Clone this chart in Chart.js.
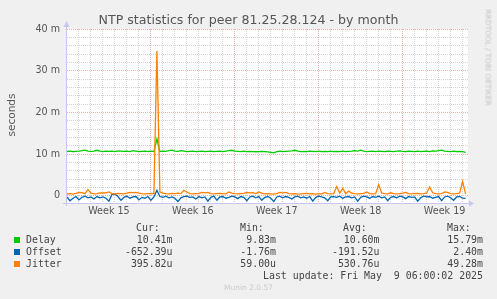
<!DOCTYPE html>
<html>
<head>
<meta charset="utf-8">
<script src="https://cdn.jsdelivr.net/npm/chart.js@4.4.1/dist/chart.umd.min.js"></script>
<style>
  html, body { margin: 0; padding: 0; background: #f0f0f0; }
  #wrap { position: relative; width: 497px; height: 299px; overflow: hidden; }
  #c { position: absolute; left: 0; top: 0; }
  .t { position: absolute; white-space: pre; }
  .mono { font-family: "DejaVu Sans Mono", monospace; font-size: 9.9px; line-height: 12px; color: #444; }
  .r { text-align: right; }
  .box { position: absolute; width: 6px; height: 6px; left: 14px; }
</style>
</head>
<body>
<div id="wrap">
  <canvas id="c" width="497" height="299"></canvas>

  <div class="t" style="left:0;top:12px;width:497px;text-align:center;font:12.6px/15px 'DejaVu Sans';color:#555;">NTP statistics for peer 81.25.28.124 - by month</div>
  <div class="t" style="left:-39px;top:109px;width:100px;text-align:center;font:10.5px/12px 'DejaVu Sans';color:#555;transform:rotate(-90deg);">seconds</div>
  <div class="t" style="left:438px;top:53px;width:100px;text-align:center;font:7.5px/9px 'DejaVu Sans';color:#c4c4c4;transform:rotate(90deg);">RRDTOOL / TOBI OETIKER</div>

  <div class="t mono" style="left:136px;top:221.5px;">Cur:</div>
  <div class="t mono" style="left:240px;top:221.5px;">Min:</div>
  <div class="t mono" style="left:343px;top:221.5px;">Avg:</div>
  <div class="t mono" style="left:447px;top:221.5px;">Max:</div>

  <div class="box" style="top:237px;background:#00cc00;"></div>
  <div class="t mono" style="left:26px;top:233.5px;">Delay</div>
  <div class="t mono r" style="right:324.5px;top:233.5px;">10.41m</div>
  <div class="t mono r" style="right:221px;top:233.5px;">9.83m</div>
  <div class="t mono r" style="right:117.5px;top:233.5px;">10.60m</div>
  <div class="t mono r" style="right:14px;top:233.5px;">15.79m</div>

  <div class="box" style="top:249px;background:#0066b3;"></div>
  <div class="t mono" style="left:26px;top:245.5px;">Offset</div>
  <div class="t mono r" style="right:324.5px;top:245.5px;">-652.39u</div>
  <div class="t mono r" style="right:221px;top:245.5px;">-1.76m</div>
  <div class="t mono r" style="right:117.5px;top:245.5px;">-191.52u</div>
  <div class="t mono r" style="right:14px;top:245.5px;">2.40m</div>

  <div class="box" style="top:261px;background:#ff8000;"></div>
  <div class="t mono" style="left:26px;top:257.5px;">Jitter</div>
  <div class="t mono r" style="right:324.5px;top:257.5px;">395.82u</div>
  <div class="t mono r" style="right:221px;top:257.5px;">59.00u</div>
  <div class="t mono r" style="right:117.5px;top:257.5px;">530.76u</div>
  <div class="t mono r" style="right:14px;top:257.5px;">49.28m</div>

  <div class="t mono r" style="right:14px;top:269.5px;">Last update: Fri May  9 06:00:02 2025</div>
  <div class="t" style="left:0;top:283px;width:497px;text-align:center;font:7.5px/10px 'DejaVu Sans';color:#cccccc;">Munin 2.0.57</div>
</div>

<script>
// values in milliseconds, one sample every 6 hours
const delay = [
  10.6, 10.7, 10.6, 10.65, 10.7, 10.8, 10.95, 10.7, 10.65, 10.7,
  10.9, 10.7, 10.6, 10.7, 10.65, 10.7, 10.6, 10.75, 10.7, 10.65,
  10.7, 10.6, 10.8, 10.7, 10.6, 10.65, 10.7, 10.6, 10.7, 10.6,
  13.6, 10.6, 10.7, 10.65, 10.8, 10.95, 10.7, 10.65, 10.8, 10.7,
  10.6, 10.65, 10.7, 10.6, 10.65, 10.7, 10.6, 10.65, 10.7, 10.6,
  10.65, 10.7, 10.6, 10.7, 10.8, 10.9, 10.7, 10.65, 10.6, 10.7,
  10.6, 10.65, 10.6, 10.55, 10.6, 10.65, 10.6, 10.5, 10.4, 10.3,
  10.6, 10.7, 10.6, 10.65, 10.7, 10.75, 10.9, 10.7, 10.6, 10.65,
  10.6, 10.7, 10.65, 10.6, 10.7, 10.6, 10.65, 10.6, 10.7, 10.6,
  10.65, 10.6, 10.7, 10.6, 10.65, 10.7, 10.8, 10.7, 10.95, 10.7,
  10.6, 10.65, 10.7, 10.6, 10.7, 10.65, 10.6, 10.7, 10.65, 10.6,
  10.7, 10.75, 10.65, 10.6, 10.7, 10.65, 10.6, 10.7, 10.6, 10.65,
  10.7, 10.6, 10.75, 10.7, 10.8, 10.95, 10.7, 10.65, 10.6, 10.7,
  10.6, 10.65, 10.6, 10.41
];

const offset = [
  -0.3, -1.2, -0.6, -0.2, -1.0, -0.4, -0.1, -0.5, -0.3, -0.8,
  -0.2, -0.5, -0.3, -0.6, -1.3, 0.3, 0.4, -0.2, -1.1, -0.4,
  -0.1, -0.6, -0.3, -0.2, -1.0, -0.4, -0.6, -0.2, -1.1, -0.3,
  1.3, -0.2, -0.4, -0.1, -0.5, -0.3, -0.6, -1.4, -0.5, -0.2,
  -0.1, -0.4, -0.3, -0.8, -0.2, -0.5, -0.3, -1.3, -0.4, -0.1,
  -1.1, -0.3, -0.2, -0.6, -0.4, -0.1, -0.3, -0.7, -0.2, -0.4,
  -1.2, -0.3, -0.1, -0.5, -0.2, -1.1, -0.4, -0.2, -0.6, -1.4,
  -0.3, -0.1, -0.5, -0.2, -0.4, -0.8, -0.3, -0.1, -0.5, -0.3,
  -0.6, -0.2, -1.3, -0.4, -0.1, -0.3, -0.5, -1.2, -0.3, -0.2,
  -0.4, -0.1, -0.6, -0.3, -0.2, -0.5, -0.3, -1.3, -0.4, -0.1,
  -0.3, -0.6, -0.2, -0.4, -0.1, -0.5, -0.3, -1.2, -0.4, -0.2,
  -0.5, -0.1, -0.3, -0.7, -0.2, -0.4, -0.3, -1.3, -0.5, -0.1,
  -0.3, -0.2, -0.6, -0.4, -0.2, -1.2, -0.3, -0.1, -0.5, -1.1,
  -0.3, -0.2, -0.6, -0.65
];

const jitter = [
  0.45, 0.5, 0.4, 0.55, 0.8, 0.75, 0.5, 1.5, 0.6, 0.45,
  0.5, 0.7, 0.65, 0.7, 0.9, 0.5, 0.4, 0.55, 0.5, 0.45,
  0.6, 0.8, 0.75, 0.8, 0.6, 0.5, 0.45, 0.5, 0.55, 0.5,
  34.7, 0.9, 0.6, 0.5, 0.45, 0.55, 0.5, 0.6, 0.5, 1.3,
  0.9, 0.5, 0.45, 0.5, 0.55, 0.8, 0.7, 0.8, 0.5, 0.45,
  0.5, 0.55, 0.5, 0.45, 0.9, 0.6, 0.5, 0.45, 0.5, 0.55,
  0.8, 0.7, 0.75, 0.5, 0.9, 0.6, 0.45, 0.5, 0.45, 0.4,
  0.5, 0.8, 0.7, 0.8, 0.5, 0.45, 0.5, 0.4, 0.45, 0.5,
  0.55, 0.45, 0.5, 0.4, 0.5, 0.45, 0.8, 0.5, 0.45, 0.5,
  2.2, 0.6, 1.8, 0.5, 1.1, 0.6, 0.5, 0.45, 0.5, 0.55,
  0.9, 0.5, 0.45, 0.5, 2.7, 0.6, 0.5, 0.45, 0.7, 0.5,
  0.45, 0.5, 0.6, 0.8, 0.5, 0.45, 0.5, 0.55, 0.45, 0.5,
  0.6, 2.1, 0.7, 0.5, 0.45, 0.5, 0.9, 0.8, 0.5, 0.45,
  0.5, 0.6, 3.4, 0.45
];

const weekLabels = ['Week 15', 'Week 16', 'Week 17', 'Week 18', 'Week 19'];
const yTickValues = [0, 10, 20, 30, 40];
const yTickLabels = ['0', '10 m', '20 m', '30 m', '40 m'];

const stepDays = 0.25;
const days = delay.map((v, i) => i * stepDays);

// grid: a dotted line every day, red at each week start; labels mid-week
const xTicks = [];
for (let d = 1; d <= 33; d++) xTicks.push(d);
weekLabels.forEach((w, i) => xTicks.push(i * 7 + 3.5));
xTicks.sort((a, b) => a - b);

const yTicks = [];
for (let v = 0; v <= 40; v += 2) yTicks.push(v);

const majorGrid = '#f0b0b0';
const minorGrid = '#d2d2d2';
const axisCol = '#c6c6f0';

const munin = {
  id: 'munin',
  beforeDraw(chart) {
    const { ctx, chartArea: a } = chart;
    ctx.save();
    ctx.fillStyle = '#ffffff';
    ctx.fillRect(a.left, a.top, a.right - a.left, a.bottom - a.top);
    ctx.restore();
  },
  afterDatasetsDraw(chart) {
    const { ctx, chartArea: a } = chart;
    ctx.save();
    ctx.strokeStyle = axisCol;
    ctx.fillStyle = axisCol;
    ctx.lineWidth = 1;
    ctx.beginPath();
    ctx.moveTo(a.left - 0.5, a.bottom + 3);
    ctx.lineTo(a.left - 0.5, a.top - 3);
    ctx.moveTo(a.left - 4, a.bottom + 0.5);
    ctx.lineTo(a.right + 1, a.bottom + 0.5);
    ctx.stroke();
    ctx.beginPath();
    ctx.moveTo(a.left - 0.5, a.top - 8);
    ctx.lineTo(a.left - 3.5, a.top - 2);
    ctx.lineTo(a.left + 2.5, a.top - 2);
    ctx.closePath();
    ctx.moveTo(a.right + 6, a.bottom + 0.5);
    ctx.lineTo(a.right + 1, a.bottom - 2.5);
    ctx.lineTo(a.right + 1, a.bottom + 3.5);
    ctx.closePath();
    ctx.fill();
    ctx.restore();
  }
};

const tickFont = { family: 'DejaVu Sans', size: 9.6 };

new Chart(document.getElementById('c'), {
  type: 'line',
  data: {
    labels: days,
    datasets: [
      { label: 'Delay', data: delay, borderColor: '#00cc00', order: 3 },
      { label: 'Offset', data: offset, borderColor: '#0066b3', order: 2 },
      { label: 'Jitter', data: jitter, borderColor: '#ff8000', order: 1 }
    ]
  },
  options: {
    responsive: false,
    animation: false,
    devicePixelRatio: 1,
    layout: { padding: { left: 0, top: 29, right: 29, bottom: 0 } },
    elements: {
      point: { radius: 0 },
      line: { borderWidth: 1.3, tension: 0 }
    },
    plugins: {
      legend: { display: false },
      tooltip: { enabled: false },
      title: { display: false }
    },
    scales: {
      x: {
        type: 'linear',
        min: 0,
        max: 33.45,
        afterBuildTicks: s => { s.ticks = xTicks.map(v => ({ value: v })); },
        afterFit: s => { s.height = 96; },
        grid: {
          drawTicks: false,
          color: c => {
            const v = c.tick.value;
            if (v % 1 !== 0) return 'rgba(0,0,0,0)';
            return v % 7 === 0 ? majorGrid : minorGrid;
          }
        },
        border: { display: false, dash: [1, 1] },
        ticks: {
          autoSkip: false,
          maxRotation: 0,
          minRotation: 0,
          padding: 3,
          color: '#555',
          font: tickFont,
          callback: v => (v % 7 === 3.5 ? weekLabels[(v - 3.5) / 7] : '')
        }
      },
      y: {
        min: -1.75,
        max: 40,
        afterBuildTicks: s => { s.ticks = yTicks.map(v => ({ value: v })); },
        afterFit: s => { s.width = 67; },
        grid: {
          drawTicks: false,
          color: c => (c.tick.value % 10 === 0 ? majorGrid : minorGrid)
        },
        border: { display: false, dash: [1, 1] },
        ticks: {
          autoSkip: false,
          padding: 7,
          color: '#555',
          font: tickFont,
          callback: v => {
            const k = yTickValues.indexOf(v);
            return k < 0 ? '' : yTickLabels[k];
          }
        }
      }
    }
  },
  plugins: [munin]
});
</script>
</body>
</html>
